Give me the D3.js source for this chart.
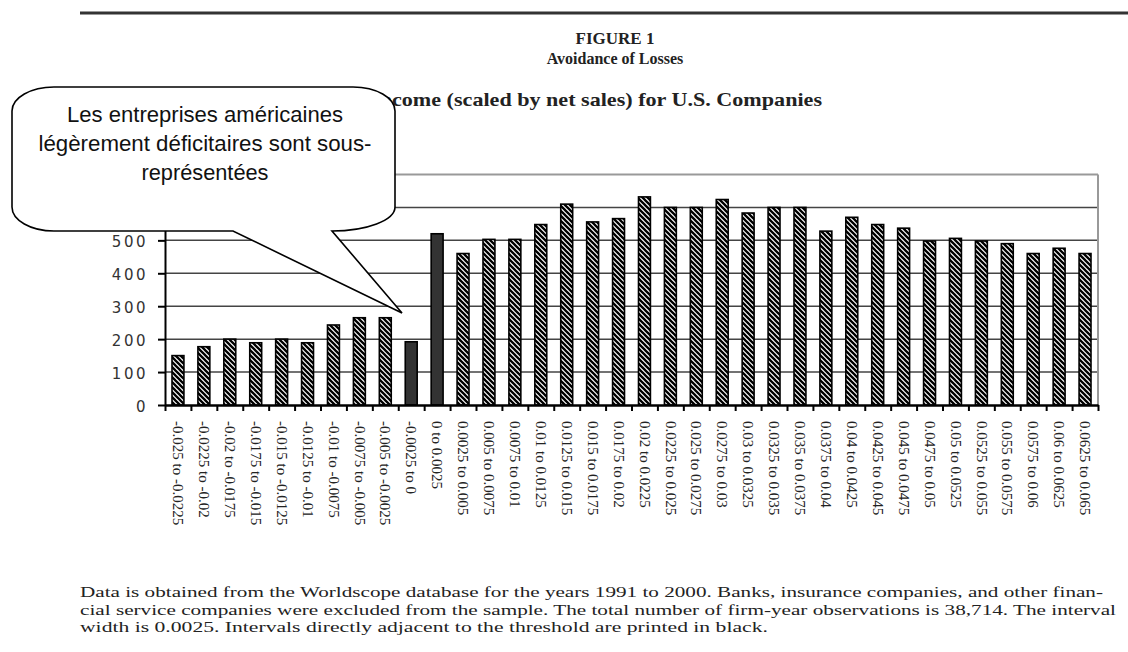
<!DOCTYPE html>
<html>
<head>
<meta charset="utf-8">
<script src="https://cdn.jsdelivr.net/npm/d3@7"></script>
<style>
  body { margin: 0; background: #fff; }
  svg { display: block; }
</style>
</head>
<body>
<svg width="1128" height="652"></svg>
<script>
// interval labels (x axis)
var categories = [
  "-0.025 to -0.0225", "-0.0225 to -0.02", "-0.02 to -0.0175", "-0.0175 to -0.015",
  "-0.015 to -0.0125", "-0.0125 to -0.01", "-0.01 to -0.0075", "-0.0075 to -0.005",
  "-0.005 to -0.0025", "-0.0025 to 0", "0 to 0.0025", "0.0025 to 0.005",
  "0.005 to 0.0075", "0.0075 to 0.01", "0.01 to 0.0125", "0.0125 to 0.015",
  "0.015 to 0.0175", "0.0175 to 0.02", "0.02 to 0.0225", "0.0225 to 0.025",
  "0.025 to 0.0275", "0.0275 to 0.03", "0.03 to 0.0325", "0.0325 to 0.035",
  "0.035 to 0.0375", "0.0375 to 0.04", "0.04 to 0.0425", "0.0425 to 0.045",
  "0.045 to 0.0475", "0.0475 to 0.05", "0.05 to 0.0525", "0.0525 to 0.055",
  "0.055 to 0.0575", "0.0575 to 0.06", "0.06 to 0.0625", "0.0625 to 0.065"
];
// firm-year counts
var counts = [
  150, 177, 200, 189, 200, 189, 243, 265, 265, 192, 520, 460,
  503, 503, 548, 610, 556, 566, 632, 600, 600, 624, 583, 600,
  600, 528, 570, 548, 537, 498, 506, 498, 490, 460, 476, 460
];
// intervals next to the threshold (drawn black)
var adjacent = ["-0.0025 to 0", "0 to 0.0025"];
var yTicks = [0, 100, 200, 300, 400, 500, 600, 700];

var titleLines = ["FIGURE 1", "Avoidance of Losses"];
var subtitle = "Distribution of Net Income (scaled by net sales) for U.S. Companies";
var subtitleTail = "come (scaled by net sales) for U.S. Companies";
var calloutLines = ["Les entreprises américaines", "légèrement déficitaires sont sous-", "représentées"];
var noteLines = [
  "Data is obtained from the Worldscope database for the years 1991 to 2000. Banks, insurance companies, and other finan-",
  "cial service companies were excluded from the sample. The total number of firm-year observations is 38,714. The interval",
  "width is 0.0025. Intervals directly adjacent to the threshold are printed in black."
];

var svg = d3.select("svg");
var plotLeft = 165, plotRight = 1098, plotTop = 174.5, plotBottom = 405;

// hatch pattern
var defs = svg.append("defs");
var pat = defs.append("pattern")
  .attr("id", "hatch")
  .attr("patternUnits", "userSpaceOnUse")
  .attr("width", 5).attr("height", 5);
pat.append("rect").attr("width", 5).attr("height", 5).attr("fill", "#fff");
pat.append("path")
  .attr("d", "M-1,-1L6,6M-1,4L1,6M4,-1L6,1")
  .attr("stroke", "#000").attr("stroke-width", 2.3);

// header rule
svg.append("line")
  .attr("x1", 80).attr("x2", 1128).attr("y1", 13).attr("y2", 13)
  .attr("stroke", "#333").attr("stroke-width", 3);

// titles
svg.append("text").attr("x", 615).attr("y", 44)
  .attr("text-anchor", "middle")
  .style("font", "bold 17px 'Liberation Serif'").attr("fill", "#222")
  .text(titleLines[0]);
svg.append("text").attr("x", 615).attr("y", 64)
  .attr("text-anchor", "middle")
  .style("font", "bold 16px 'Liberation Serif'").attr("fill", "#222")
  .text(titleLines[1]);

// subtitle: stretch so the visible tail spans 392..822 like the scan
var sub = svg.append("text").attr("x", 822).attr("y", 106)
  .attr("text-anchor", "end")
  .style("font", "bold 19px 'Liberation Serif'").attr("fill", "#222")
  .text(subtitleTail);
var tailLen = sub.node().getComputedTextLength();
sub.text(subtitle);
var fullLen = sub.node().getComputedTextLength();
sub.attr("textLength", fullLen * 430 / tailLen).attr("lengthAdjust", "spacingAndGlyphs");

// scales
var x = d3.scaleBand().domain(categories).range([plotLeft, plotRight])
  .paddingInner(0.54).paddingOuter(0.27);
var xEdge = d3.scaleLinear().domain([0, categories.length]).range([plotLeft, plotRight]);
var y = d3.scaleLinear().domain([0, 700]).range([plotBottom, plotTop]);

// gridlines
svg.append("g").selectAll("line")
  .data(yTicks.filter(function(d){ return d > 0; }))
  .enter().append("line")
  .attr("x1", plotLeft).attr("x2", plotRight)
  .attr("y1", function(d){ return y(d); })
  .attr("y2", function(d){ return y(d); })
  .attr("stroke", function(d){ return d == 700 ? "#999" : "#444"; })
  .attr("stroke-width", function(d){ return d == 700 ? 2 : 1.5; });
svg.append("line")
  .attr("x1", plotRight).attr("x2", plotRight).attr("y1", plotTop).attr("y2", plotBottom)
  .attr("stroke", "#999").attr("stroke-width", 2);

// y axis
var yAxis = svg.append("g")
  .attr("transform", "translate(" + plotLeft + ",0)")
  .call(d3.axisLeft(y).tickValues(yTicks).tickSize(7).tickPadding(10).tickSizeOuter(0));
yAxis.select(".domain").attr("stroke", "#000").attr("stroke-width", 2);
yAxis.selectAll(".tick line").attr("stroke", "#000").attr("stroke-width", 2);
yAxis.selectAll(".tick text")
  .style("font-family", "'DejaVu Sans'").style("font-size", "15px")
  .style("letter-spacing", "2.5px").attr("fill", "#333").attr("dy", "0.4em");

// bars
svg.append("g").selectAll("rect")
  .data(categories)
  .enter().append("rect")
  .attr("x", function(d){ return x(d); })
  .attr("width", x.bandwidth())
  .attr("y", function(d, i){ return y(counts[i]); })
  .attr("height", function(d, i){ return plotBottom - y(counts[i]); })
  .attr("fill", function(d){ return adjacent.indexOf(d) >= 0 ? "#333" : "url(#hatch)"; })
  .attr("stroke", "#000").attr("stroke-width", 1.6);

// x axis with ticks on the interval edges
var xAxis = svg.append("g")
  .attr("transform", "translate(0," + plotBottom + ")")
  .call(d3.axisBottom(xEdge).tickValues(d3.range(categories.length + 1))
    .tickFormat("").tickSize(6).tickSizeOuter(0));
xAxis.select(".domain").attr("stroke", "#000").attr("stroke-width", 2.5);
xAxis.selectAll(".tick line").attr("stroke", "#000").attr("stroke-width", 2);

// rotated interval labels
svg.append("g").selectAll("text")
  .data(categories)
  .enter().append("text")
  .attr("transform", function(d){
    return "translate(" + (x(d) + x.bandwidth() / 2) + ",421) rotate(90)";
  })
  .attr("dy", "0.32em")
  .style("font", "15px 'Liberation Serif'").attr("fill", "#222")
  .text(function(d){ return d; });

// callout
var x0 = 12, x1 = 395, y0 = 87, y1 = 231, rx = 42, ry = 24;
var bx0 = 233, bx1 = 332, tipX = 402, tipY = 313;
var callout = "M" + (x0 + rx) + "," + y0 +
  "L" + (x1 - rx) + "," + y0 +
  "A" + rx + "," + ry + " 0 0 1 " + x1 + "," + (y0 + ry) +
  "L" + x1 + "," + (y1 - ry) +
  "A" + (x1 - bx1) + "," + ry + " 0 0 1 " + bx1 + "," + y1 +
  "L" + tipX + "," + tipY +
  "L" + bx0 + "," + y1 +
  "L" + (x0 + rx) + "," + y1 +
  "A" + rx + "," + ry + " 0 0 1 " + x0 + "," + (y1 - ry) +
  "L" + x0 + "," + (y0 + ry) +
  "A" + rx + "," + ry + " 0 0 1 " + (x0 + rx) + "," + y0 + "Z";
svg.append("path").attr("d", callout)
  .attr("fill", "#fff").attr("stroke", "#000").attr("stroke-width", 1.6);

var calloutLen = [276, 333, 127];
svg.append("g").selectAll("text")
  .data(calloutLines)
  .enter().append("text")
  .attr("x", 205).attr("y", function(d, i){ return 122 + i * 29; })
  .attr("text-anchor", "middle")
  .attr("textLength", function(d, i){ return calloutLen[i]; })
  .attr("lengthAdjust", "spacingAndGlyphs")
  .style("font", "22px 'Liberation Sans'").attr("fill", "#111")
  .text(function(d){ return d; });

// note below the chart: scan is wider than plain Times, so widen by the
// ratio measured on "...years 1991 to" (ends near x=660); first two lines justified
var probe = svg.append("text").style("font", "15px 'Liberation Serif'")
  .text("Data is obtained from the Worldscope database for the years 1991 to");
var widen = 592 / probe.node().getComputedTextLength();
probe.remove();
var noteEnd = [1103, 1116, null];
var notes = svg.append("g").selectAll("text")
  .data(noteLines)
  .enter().append("text")
  .attr("x", 80).attr("y", function(d, i){ return 597 + i * 17.5; })
  .style("font", "15px 'Liberation Serif'").attr("fill", "#222")
  .text(function(d){ return d; });
notes.each(function(d, i){
  var len = noteEnd[i] ? noteEnd[i] - 80 : this.getComputedTextLength() * widen;
  d3.select(this).attr("textLength", len).attr("lengthAdjust", "spacingAndGlyphs");
});
</script>
</body>
</html>
